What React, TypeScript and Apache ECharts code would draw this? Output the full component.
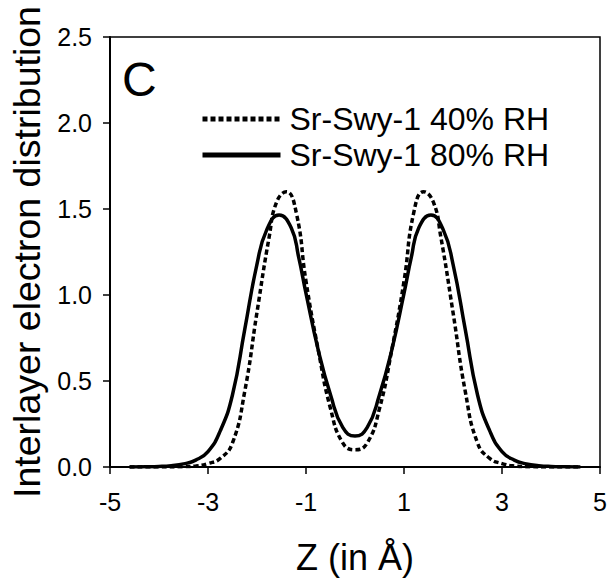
import React, { useEffect, useRef } from "react";
import * as echarts from "echarts";

const FONT = "'Liberation Sans', Arial, Helvetica, sans-serif";

const seriesNames = ["Sr-Swy-1 40% RH", "Sr-Swy-1 80% RH"];

const xTickValues = [-5, -3, -1, 1, 3, 5];
const yTickLabels = ["0.0", "0.5", "1.0", "1.5", "2.0", "2.5"];

const z40 = [-4.6, -4, -3.5, -3.25, -3, -2.75, -2.5, -2.25, -2, -1.75, -1.6, -1.4, -1.2, -1, -0.75, -0.5, -0.25, 0, 0.25, 0.5, 0.75, 1, 1.2, 1.4, 1.6, 1.75, 2, 2.25, 2.5, 2.75, 3, 3.25, 3.5, 4, 4.6];
const rho40 = [0, 0, 0.002, 0.006, 0.02, 0.05, 0.14, 0.44, 0.9, 1.34, 1.54, 1.6, 1.48, 1.08, 0.68, 0.34, 0.14, 0.1, 0.14, 0.34, 0.68, 1.08, 1.48, 1.6, 1.54, 1.34, 0.9, 0.44, 0.14, 0.05, 0.02, 0.006, 0.002, 0, 0];

const z80 = [-4.6, -4.25, -4, -3.75, -3.5, -3.25, -3, -2.75, -2.5, -2.25, -2, -1.8, -1.55, -1.3, -1.15, -1, -0.75, -0.5, -0.25, 0, 0.25, 0.5, 0.75, 1, 1.15, 1.3, 1.55, 1.8, 2, 2.25, 2.5, 2.75, 3, 3.25, 3.5, 3.75, 4, 4.25, 4.6];
const rho80 = [0, 0.001, 0.003, 0.008, 0.018, 0.04, 0.09, 0.21, 0.42, 0.8, 1.18, 1.38, 1.465, 1.39, 1.22, 1.01, 0.68, 0.42, 0.23, 0.18, 0.23, 0.42, 0.68, 1.01, 1.22, 1.39, 1.465, 1.38, 1.18, 0.8, 0.42, 0.21, 0.09, 0.04, 0.018, 0.008, 0.003, 0.001, 0];

export default function App() {
  const ref = useRef<HTMLDivElement>(null);
  useEffect(() => {
    if (!ref.current) return;
    const chart = echarts.init(ref.current, null, { renderer: "svg" });
    const d40 = z40.map((z, i) => [z, rho40[i]]);
    const d80 = z80.map((z, i) => [z, rho80[i]]);
    chart.setOption({
      animation: false,
      backgroundColor: "#ffffff",
      textStyle: { fontFamily: FONT },
      grid: {
        left: 110,
        right: 12,
        top: 37,
        bottom: 116,
        outerBoundsMode: "none",
        containLabel: false,
        show: true,
        borderColor: "#000",
        borderWidth: 1.5,
        backgroundColor: "transparent",
      },
      legend: {
        orient: "vertical",
        left: 195,
        top: 98,
        itemWidth: 78,
        itemHeight: 14,
        itemGap: 4,
        data: seriesNames,
        itemStyle: { color: "transparent", borderWidth: 0, opacity: 0 },
        lineStyle: { width: 5 },
        textStyle: { fontSize: 32, color: "#000", fontFamily: FONT, padding: [0, 0, 0, 4] },
      },
      graphic: [
        {
          type: "text",
          left: 122,
          top: 55,
          style: { text: "C", fontSize: 48, fill: "#000", fontFamily: FONT },
        },
      ],
      xAxis: {
        type: "value",
        min: -5,
        max: 5,
        name: "Z (in Å)",
        nameLocation: "middle",
        nameGap: 72,
        nameTextStyle: { fontSize: 36, color: "#000", fontFamily: FONT },
        axisLine: { show: true, onZero: false, lineStyle: { color: "#000", width: 2 } },
        axisTick: { show: true, inside: false, length: 7, customValues: xTickValues, lineStyle: { color: "#000", width: 1.5 } },
        axisLabel: { customValues: xTickValues, fontSize: 25, color: "#000", margin: 22, fontFamily: FONT },
        splitLine: { show: false },
      },
      yAxis: {
        type: "value",
        min: 0,
        max: 2.5,
        interval: 0.5,
        name: "Interlayer electron distribution",
        nameLocation: "middle",
        nameGap: 61,
        nameTextStyle: { fontSize: 37.5, color: "#000", fontFamily: FONT },
        axisLine: { show: true, onZero: false, lineStyle: { color: "#000", width: 2 } },
        axisTick: { show: true, inside: false, length: 7, lineStyle: { color: "#000", width: 1.5 } },
        axisLabel: {
          fontSize: 25,
          color: "#000",
          margin: 18,
          fontFamily: FONT,
          formatter: (v: number) => yTickLabels[Math.round(v / 0.5)] ?? v.toFixed(1),
        },
        splitLine: { show: false },
      },
      series: [
        {
          name: seriesNames[0],
          type: "line",
          data: d40,
          smooth: true,
          symbol: "none",
          lineStyle: { color: "#000", width: 3.5, type: [5, 3] },
          itemStyle: { color: "#000" },
          z: 3,
        },
        {
          name: seriesNames[1],
          type: "line",
          data: d80,
          smooth: true,
          symbol: "none",
          lineStyle: { color: "#000", width: 3.5, type: "solid" },
          itemStyle: { color: "#000" },
          z: 3,
        },
      ],
    });
    return () => chart.dispose();
  }, []);
  return (
    <div
      ref={ref}
      style={{ position: "fixed", left: 0, top: 0, width: 612, height: 583, background: "#fff" }}
    />
  );
}
